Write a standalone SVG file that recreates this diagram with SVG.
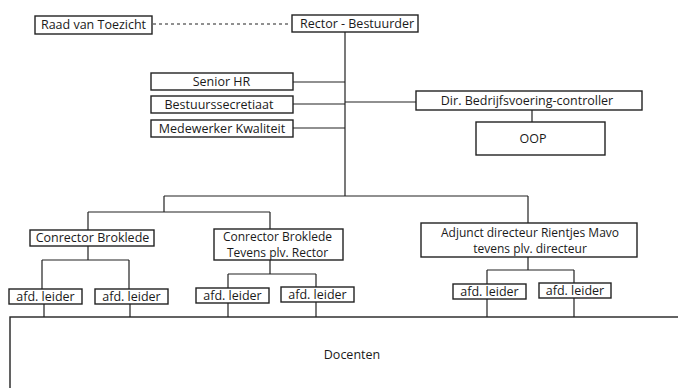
<svg xmlns="http://www.w3.org/2000/svg" width="678" height="388" viewBox="0 0 678 388">
<style>
.box{fill:#fff;stroke:#222;stroke-width:1.4}
.ln{fill:none;stroke:#222;stroke-width:1.2}
.t{font-family:"Open Sans","Noto Sans",sans-serif;font-size:12.5px;fill:#1a1a1a;text-anchor:middle}
.m{font-size:12px}
</style>
<rect width="678" height="388" fill="#fff"/>
<g id="connectors">
<path class="ln" d="M153 24H291" stroke-dasharray="3 3"/>
<path class="ln" d="M345 32V196M293 82H345M293 104H345M293 128H345M345 102H416M532 110V122"/>
<path class="ln" d="M164 196H528M164 196V212M88 212H270M88 212V230M270 212V229M528 196V223"/>
<path class="ln" d="M88 246V260M42 260H129M42 260V289M129 260V289"/>
<path class="ln" d="M270 260V274M228 274H316M228 274V288M316 274V287"/>
<path class="ln" d="M528 257V270M487 270H574M487 270V284M574 270V283"/>
<path class="ln" d="M44 304V317M130 304V317M228 303V317M316 302V317M487 299V317M574 298V317"/>
</g>
<g id="docenten"><rect class="box" x="10" y="317" width="700" height="100"/><text class="t" x="352" y="359">Docenten</text></g>
<g id="raad"><rect class="box" x="35" y="16" width="117" height="18"/><text class="t" x="93.5" y="29.3">Raad van Toezicht</text></g>
<g id="rector"><rect class="box" x="292" y="15" width="126" height="17"/><text class="t" x="357" y="27.8">Rector - Bestuurder</text></g>
<g id="seniorhr"><rect class="box" x="151" y="73" width="142" height="17"/><text class="t" x="221.5" y="85.8">Senior HR</text></g>
<g id="secretariaat"><rect class="box" x="151" y="96" width="142" height="17"/><text class="t" x="219" y="108.8">Bestuurssecretiaat</text></g>
<g id="kwaliteit"><rect class="box" x="151" y="120" width="142" height="17"/><text class="t" x="222" y="132.8">Medewerker Kwaliteit</text></g>
<g id="dir"><rect class="box" x="416" y="91" width="226" height="19"/><text class="t" x="527" y="104.8">Dir. Bedrijfsvoering-controller</text></g>
<g id="oop"><rect class="box" x="476" y="122" width="129" height="33"/><text class="t" x="533" y="142.8">OOP</text></g>
<g id="conrector1"><rect class="box" x="30" y="230" width="124" height="16"/><text class="t" x="92.5" y="242.3">Conrector Broklede</text></g>
<g id="conrector2"><rect class="box" x="214" y="229" width="129" height="31"/><text class="t m" x="277.5" y="240.5">Conrector Broklede</text><text class="t m" x="277.5" y="257">Tevens plv. Rector</text></g>
<g id="adjunct"><rect class="box" x="421" y="223" width="216" height="34"/><text class="t m" x="530" y="236.5">Adjunct directeur Rientjes Mavo</text><text class="t m" x="530" y="253">tevens plv. directeur</text></g>
<g id="afd1"><rect class="box" x="9" y="289" width="73" height="15"/><text class="t" x="45.5" y="300.8">afd. leider</text></g>
<g id="afd2"><rect class="box" x="95" y="289" width="73" height="15"/><text class="t" x="131.5" y="300.8">afd. leider</text></g>
<g id="afd3"><rect class="box" x="196" y="288" width="73" height="15"/><text class="t" x="232.5" y="299.8">afd. leider</text></g>
<g id="afd4"><rect class="box" x="281" y="287" width="73" height="15"/><text class="t" x="317.5" y="298.8">afd. leider</text></g>
<g id="afd5"><rect class="box" x="453" y="284" width="73" height="15"/><text class="t" x="489.5" y="295.8">afd. leider</text></g>
<g id="afd6"><rect class="box" x="539" y="283" width="72" height="15"/><text class="t" x="575" y="294.8">afd. leider</text></g>
</svg>
